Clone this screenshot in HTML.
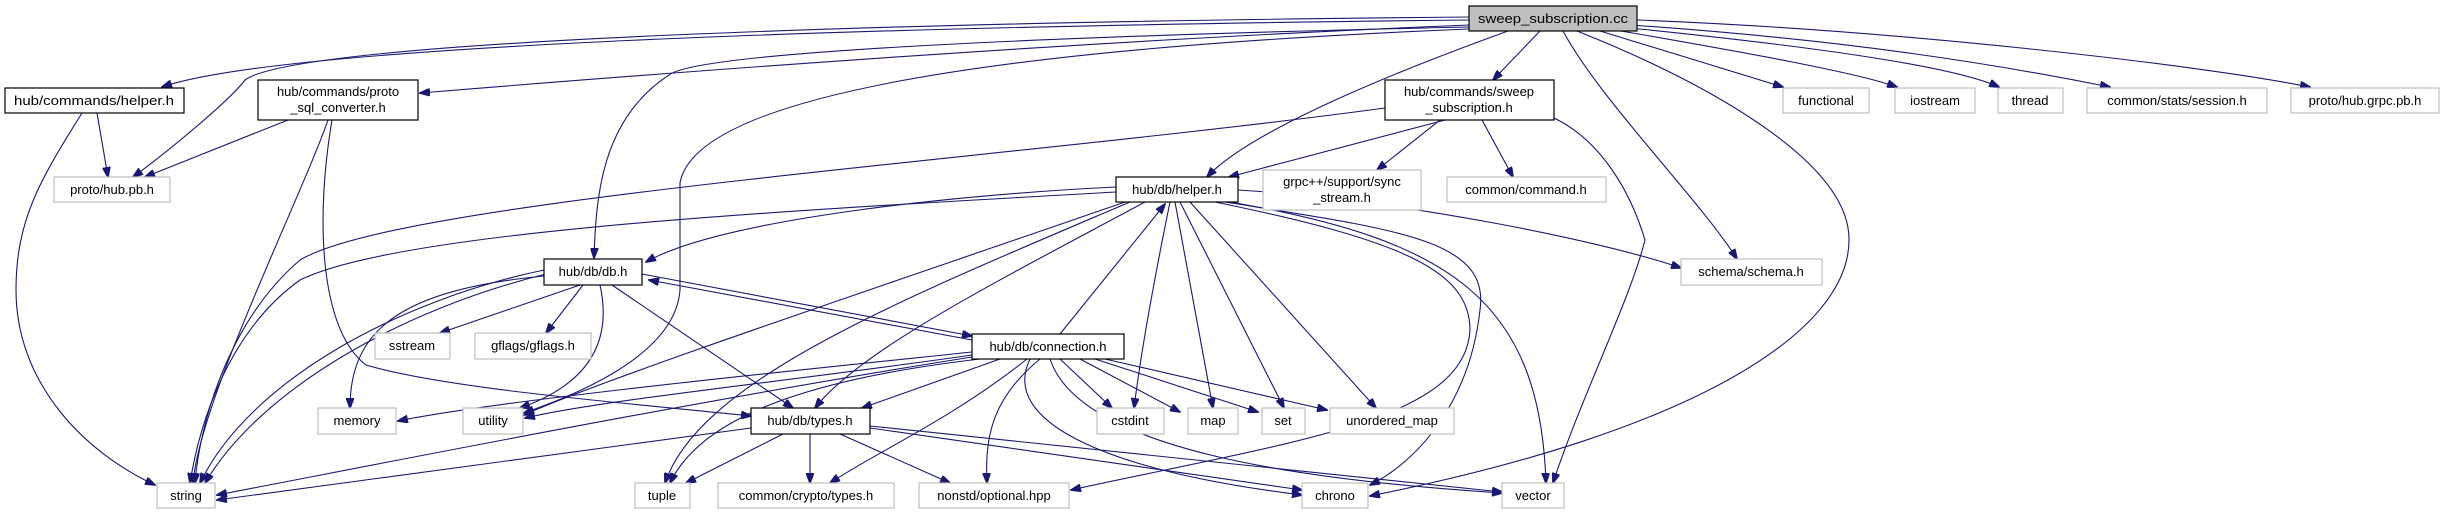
<!DOCTYPE html>
<html><head><meta charset="utf-8"><style>
html,body{margin:0;padding:0;background:#fff;width:2445px;height:515px;overflow:hidden}
svg{display:block}
text{font-family:"Liberation Sans",sans-serif;font-size:13px;fill:#000}
.e{fill:none;stroke:#191970;stroke-width:1.1}
.d{fill:#fff;stroke:#000;stroke-width:1.2}
.g{fill:#fff;stroke:#bfbfbf;stroke-width:1.2}
</style></head><body>
<svg width="2445" height="515" viewBox="0 0 2445 515" xmlns="http://www.w3.org/2000/svg">
<defs><marker id="a" markerWidth="11" markerHeight="8" refX="10" refY="4" orient="auto" markerUnits="userSpaceOnUse"><path d="M0,0 L11,4 L0,8 z" fill="#191970" stroke="#191970"/></marker></defs>
<g marker-end="url(#a)">
<path class="e" d="M1469,20 C1000,25 300,40 162,87"/>
<path class="e" d="M1469,17 C900,22 300,40 245,80 C230,100 170,150 133,177"/>
<path class="e" d="M1469,25 C1100,40 700,70 420,93"/>
<path class="e" d="M1469,27 C1100,35 700,50 669,75 C600,120 596,200 594,258"/>
<path class="e" d="M1469,29 C1200,40 700,70 680,183 L680,290 C675,360 560,400 524,413"/>
<path class="e" d="M1508,31 C1400,70 1250,130 1207,177"/>
<path class="e" d="M1540,31 L1493,80"/>
<path class="e" d="M1563,31 C1600,100 1700,200 1737,259"/>
<path class="e" d="M1577,31 C1700,80 1850,160 1849,240 C1849,330 1700,430 1370,496"/>
<path class="e" d="M1600,31 L1783,87"/>
<path class="e" d="M1610,29 C1700,45 1850,70 1897,87"/>
<path class="e" d="M1620,27 C1800,45 1950,65 1999,87"/>
<path class="e" d="M1630,25 C1850,40 2000,65 2110,87"/>
<path class="e" d="M1637,20 C1900,30 2200,65 2310,87"/>
<path class="e" d="M1385,108 C1000,160 400,200 300,260 C230,320 200,420 195,483"/>
<path class="e" d="M1445,120 L1229,177"/>
<path class="e" d="M1440,120 L1377,170"/>
<path class="e" d="M1482,120 L1513,177"/>
<path class="e" d="M1554,118 C1600,140 1630,190 1645,240 C1630,300 1580,400 1553,483"/>
<path class="e" d="M1116,187 C950,195 720,220 646,262"/>
<path class="e" d="M1116,192 C800,210 400,230 300,280 C230,330 200,420 190,483"/>
<path class="e" d="M1125,202 C900,280 600,380 524,415"/>
<path class="e" d="M1130,202 C900,300 700,380 665,483"/>
<path class="e" d="M1145,202 C1000,280 860,350 815,408"/>
<path class="e" d="M1170,202 C1150,300 1140,360 1134,408"/>
<path class="e" d="M1175,202 L1213,408"/>
<path class="e" d="M1180,202 L1284,408"/>
<path class="e" d="M1190,202 L1376,408"/>
<path class="e" d="M1238,190 C1400,200 1600,240 1681,268"/>
<path class="e" d="M1225,202 C1400,230 1490,240 1480,310 C1470,400 1420,460 1370,485"/>
<path class="e" d="M1215,202 C1400,240 1470,270 1470,330 C1465,420 1300,440 1071,490"/>
<path class="e" d="M1230,202 C1450,240 1540,300 1546,483"/>
<path class="e" d="M544,270 C400,300 250,380 200,483"/>
<path class="e" d="M546,274 C400,310 260,390 205,483"/>
<path class="e" d="M544,276 C400,290 350,330 350,408"/>
<path class="e" d="M580,285 L440,333"/>
<path class="e" d="M583,285 L546,333"/>
<path class="e" d="M600,285 C610,330 600,380 520,408"/>
<path class="e" d="M612,285 L793,408"/>
<path class="e" d="M642,274 L972,336"/>
<path class="e" d="M1060,334 L1165,204"/>
<path class="e" d="M972,340 L649,280"/>
<path class="e" d="M972,352 C800,370 500,400 398,421"/>
<path class="e" d="M972,355 C800,380 600,400 525,418"/>
<path class="e" d="M972,357 C700,400 400,460 217,495"/>
<path class="e" d="M1000,359 L862,408"/>
<path class="e" d="M980,359 C800,380 700,420 670,483"/>
<path class="e" d="M1027,359 C950,420 880,450 830,483"/>
<path class="e" d="M1040,359 C990,400 985,440 987,483"/>
<path class="e" d="M1060,359 L1112,408"/>
<path class="e" d="M1080,359 L1180,412"/>
<path class="e" d="M1095,359 L1258,412"/>
<path class="e" d="M1105,359 L1327,410"/>
<path class="e" d="M1030,359 C1000,420 1100,470 1302,495"/>
<path class="e" d="M1050,359 C1080,450 1300,480 1502,493"/>
<path class="e" d="M751,428 L217,500"/>
<path class="e" d="M783,434 L686,483"/>
<path class="e" d="M810,434 L810,483"/>
<path class="e" d="M840,434 L950,483"/>
<path class="e" d="M870,428 L1302,490"/>
<path class="e" d="M870,426 L1502,492"/>
<path class="e" d="M97,113 L108,177"/>
<path class="e" d="M82,113 C40,180 16,220 16,290 C16,380 80,450 155,485"/>
<path class="e" d="M288,120 L145,177"/>
<path class="e" d="M328,120 C300,200 200,400 193,483"/>
<path class="e" d="M332,120 C315,220 320,330 366,365 C450,390 650,405 751,416"/>
</g>
<rect x="1469" y="6" width="168" height="25" fill="#bfbfbf" stroke="#000" stroke-width="1.2"/>
<text x="1553" y="23" text-anchor="middle" textLength="150" lengthAdjust="spacingAndGlyphs">sweep_subscription.cc</text>
<rect class="d" x="5" y="88" width="179" height="25"/><text x="94" y="105" text-anchor="middle" textLength="160" lengthAdjust="spacingAndGlyphs">hub/commands/helper.h</text>
<rect class="d" x="258" y="80" width="160" height="40"/><text x="338" y="96" text-anchor="middle">hub/commands/proto</text><text x="338" y="112" text-anchor="middle">_sql_converter.h</text>
<rect class="g" x="54" y="177" width="116" height="25"/><text x="112" y="194" text-anchor="middle">proto/hub.pb.h</text>
<rect class="d" x="1385" y="80" width="169" height="40"/><text x="1469" y="96" text-anchor="middle">hub/commands/sweep</text><text x="1469" y="112" text-anchor="middle">_subscription.h</text>
<rect class="d" x="1116" y="177" width="122" height="25"/><text x="1177" y="194" text-anchor="middle">hub/db/helper.h</text>
<rect class="g" x="1263" y="170" width="158" height="40"/><text x="1342" y="186" text-anchor="middle">grpc++/support/sync</text><text x="1342" y="202" text-anchor="middle">_stream.h</text>
<rect class="g" x="1447" y="177" width="159" height="25"/><text x="1526" y="194" text-anchor="middle">common/command.h</text>
<rect class="g" x="1783" y="88" width="86" height="25"/><text x="1826" y="105" text-anchor="middle">functional</text>
<rect class="g" x="1895" y="88" width="80" height="25"/><text x="1935" y="105" text-anchor="middle">iostream</text>
<rect class="g" x="1998" y="88" width="65" height="25"/><text x="2030" y="105" text-anchor="middle">thread</text>
<rect class="g" x="2087" y="88" width="180" height="25"/><text x="2177" y="105" text-anchor="middle">common/stats/session.h</text>
<rect class="g" x="2291" y="88" width="148" height="25"/><text x="2365" y="105" text-anchor="middle">proto/hub.grpc.pb.h</text>
<rect class="g" x="1681" y="259" width="141" height="26"/><text x="1751" y="276" text-anchor="middle">schema/schema.h</text>
<rect class="d" x="544" y="259" width="98" height="26"/><text x="593" y="276" text-anchor="middle">hub/db/db.h</text>
<rect class="g" x="375" y="333" width="75" height="26"/><text x="412" y="350" text-anchor="middle">sstream</text>
<rect class="g" x="475" y="333" width="116" height="26"/><text x="533" y="350" text-anchor="middle">gflags/gflags.h</text>
<rect class="d" x="972" y="334" width="152" height="25"/><text x="1048" y="351" text-anchor="middle">hub/db/connection.h</text>
<rect class="g" x="318" y="408" width="78" height="26"/><text x="357" y="425" text-anchor="middle">memory</text>
<rect class="g" x="463" y="408" width="60" height="26"/><text x="493" y="425" text-anchor="middle">utility</text>
<rect class="d" x="751" y="408" width="119" height="26"/><text x="810" y="425" text-anchor="middle">hub/db/types.h</text>
<rect class="g" x="1097" y="408" width="67" height="26"/><text x="1130" y="425" text-anchor="middle">cstdint</text>
<rect class="g" x="1188" y="408" width="50" height="26"/><text x="1213" y="425" text-anchor="middle">map</text>
<rect class="g" x="1262" y="408" width="43" height="26"/><text x="1283" y="425" text-anchor="middle">set</text>
<rect class="g" x="1330" y="408" width="124" height="26"/><text x="1392" y="425" text-anchor="middle">unordered_map</text>
<rect class="g" x="157" y="483" width="58" height="25"/><text x="186" y="500" text-anchor="middle">string</text>
<rect class="g" x="635" y="483" width="55" height="25"/><text x="662" y="500" text-anchor="middle">tuple</text>
<rect class="g" x="718" y="483" width="176" height="25"/><text x="806" y="500" text-anchor="middle">common/crypto/types.h</text>
<rect class="g" x="919" y="483" width="150" height="25"/><text x="994" y="500" text-anchor="middle">nonstd/optional.hpp</text>
<rect class="g" x="1302" y="483" width="66" height="25"/><text x="1335" y="500" text-anchor="middle">chrono</text>
<rect class="g" x="1502" y="483" width="62" height="25"/><text x="1533" y="500" text-anchor="middle">vector</text>
</svg>
</body></html>
